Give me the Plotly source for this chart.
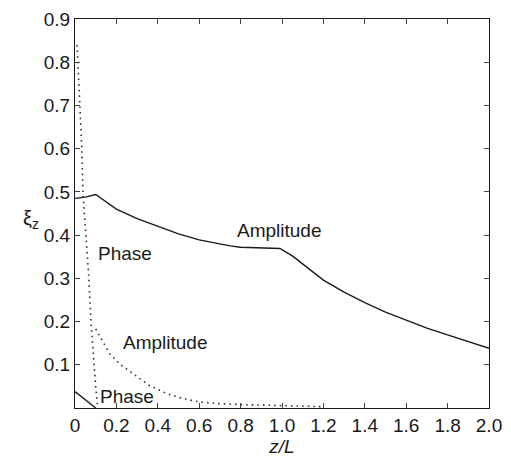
import plotly.graph_objects as go

# Solid amplitude curve
amp_z = [0, 0.05, 0.1, 0.15, 0.2, 0.3, 0.4, 0.5, 0.6, 0.7, 0.75, 0.8, 0.9, 0.99, 1.05, 1.1, 1.15, 1.2, 1.3, 1.4, 1.5, 1.6, 1.7, 1.8, 1.9, 2.0]
amp_v = [0.485, 0.488, 0.494, 0.476, 0.460, 0.438, 0.420, 0.403, 0.389, 0.379, 0.375, 0.372, 0.370, 0.369, 0.352, 0.333, 0.313, 0.296, 0.268, 0.244, 0.222, 0.203, 0.185, 0.169, 0.153, 0.138]

# Solid phase curve
ph_z = [0, 0.05, 0.1]
ph_v = [0.038, 0.018, 0.0]

# Dotted phase curve
dph_z = [0.01, 0.024, 0.033, 0.038, 0.053, 0.067, 0.077, 0.09, 0.1, 0.11]
dph_v = [0.84, 0.70, 0.60, 0.50, 0.40, 0.30, 0.20, 0.10, 0.05, 0.0]

# Dotted amplitude curve
damp_z = [0.1, 0.167, 0.22, 0.28, 0.36, 0.44, 0.52, 0.6, 0.7, 0.8, 1.0, 1.2]
damp_v = [0.183, 0.126, 0.100, 0.079, 0.052, 0.034, 0.022, 0.014, 0.010, 0.008, 0.005, 0.003]

x_ticks = [0, 0.2, 0.4, 0.6, 0.8, 1.0, 1.2, 1.4, 1.6, 1.8, 2.0]
x_labels = ["0", "0.2", "0.4", "0.6", "0.8", "1.0", "1.2", "1.4", "1.6", "1.8", "2.0"]
y_ticks = [0.1, 0.2, 0.3, 0.4, 0.5, 0.6, 0.7, 0.8, 0.9]
y_labels = ["0.1", "0.2", "0.3", "0.4", "0.5", "0.6", "0.7", "0.8", "0.9"]

labels = [
    ("Amplitude", 0.99, 0.41),
    ("Phase", 0.24, 0.357),
    ("Amplitude", 0.435, 0.151),
    ("Phase", 0.25, 0.027),
]

FONT = "Liberation Sans, Arial, sans-serif"
ink = "#1a1a1a"
DOT = "1.6px,4px"

fig = go.Figure()
fig.add_trace(go.Scatter(x=amp_z, y=amp_v, mode="lines", line=dict(color=ink, width=1.4)))
fig.add_trace(go.Scatter(x=ph_z, y=ph_v, mode="lines", line=dict(color=ink, width=1.4)))
fig.add_trace(go.Scatter(x=dph_z, y=dph_v, mode="lines", line=dict(color="#333", width=1.6, dash=DOT)))
fig.add_trace(go.Scatter(x=damp_z, y=damp_v, mode="lines", line=dict(color="#333", width=1.6, dash=DOT)))

for text, x, y in labels:
    fig.add_annotation(x=x, y=y, text=text, showarrow=False, font=dict(family=FONT, size=19, color=ink))

fig.add_annotation(x=-0.13, y=0.435, xref="paper", yref="y", text="ξ<sub>z</sub>", showarrow=False,
                   font=dict(family=FONT, size=20, color=ink))

fig.update_layout(
    width=511, height=464,
    margin=dict(l=75, r=18, t=9, b=56),
    paper_bgcolor="white", plot_bgcolor="white",
    showlegend=False,
    font=dict(family=FONT, size=19, color=ink),
)
fig.update_xaxes(range=[0, 2.0], tickvals=x_ticks, ticktext=x_labels, ticks="inside", ticklen=5,
                 showline=True, linecolor=ink, linewidth=1.2, mirror="ticks", showgrid=False, zeroline=False,
                 ticklabeloverflow="allow",
                 title=dict(text="<i>z/L</i>", standoff=0, font=dict(size=19)))
fig.update_yaxes(range=[0, 0.9], tickvals=y_ticks, ticktext=y_labels, ticks="inside", ticklen=5,
                 showline=True, linecolor=ink, linewidth=1.2, mirror="ticks", showgrid=False, zeroline=False,
                 ticklabeloverflow="allow")

fig.write_html("out.html")
